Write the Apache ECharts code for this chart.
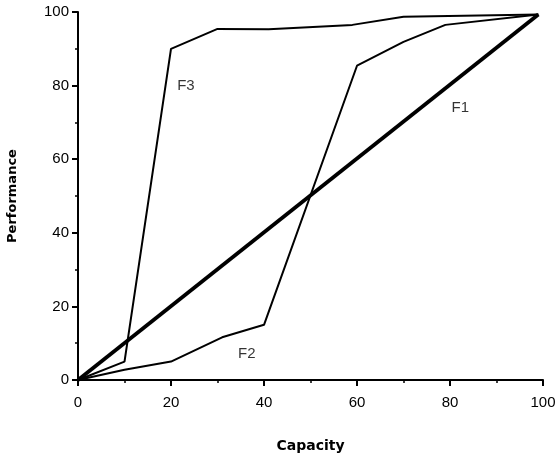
<!DOCTYPE html>
<html>
<head>
<meta charset="utf-8">
<script src="https://cdn.jsdelivr.net/npm/echarts@6/dist/echarts.min.js"></script>
<style>
html,body{margin:0;padding:0;background:#fff;}
#chart{width:557px;height:458px;}
</style>
</head>
<body>
<div id="chart"></div>
<script>
// Data
const f1X = [0, 99];
const f1Y = [0, 99.3];
const f2X = [0, 10, 20, 31, 40, 60, 70, 79, 99];
const f2Y = [0, 2.8, 5, 11.6, 15, 85.4, 91.9, 96.5, 99.3];
const f3X = [0, 10, 20, 30, 41, 59, 70, 99];
const f3Y = [0, 5, 90, 95.4, 95.3, 96.5, 98.7, 99.3];
const curveNames = ['F1', 'F2', 'F3'];
const labelX = [82.2, 36.3, 23.2];
const labelY = [73.9, 7.2, 79.9];
const xTicks = [0, 20, 40, 60, 80, 100];
const yTicks = [0, 20, 40, 60, 80, 100];

const zip = (xs, ys) => xs.map((x, i) => [x, ys[i]]);
const sans = '"Liberation Sans", Arial, Helvetica, sans-serif';

const chart = echarts.init(document.getElementById('chart'));
const axisCommon = {
  type: 'value', min: 0, max: 100, interval: 20,
  axisLine: { show: true, onZero: false, lineStyle: { color: '#000', width: 2 } },
  axisTick: { show: true, inside: false, length: 6, lineStyle: { color: '#000', width: 2 } },
  minorTick: { show: true, splitNumber: 2, length: 3, lineStyle: { color: '#000', width: 1.5 } },
  splitLine: { show: false },
  nameLocation: 'middle'
};
chart.setOption({
  animation: false,
  backgroundColor: '#fff',
  grid: { left: 78, right: 14, top: 12, bottom: 78, containLabel: false, outerBoundsMode: 'none' },
  xAxis: Object.assign({}, axisCommon, {
    name: 'Capacity', nameGap: 59,
    nameTextStyle: { fontFamily: '"DejaVu Sans"', fontWeight: 'bold', fontSize: 14, color: '#000' },
    axisLabel: { color: '#000', fontSize: 15, fontFamily: sans, margin: 15,
      formatter: v => xTicks.includes(v) ? String(v) : '' }
  }),
  yAxis: Object.assign({}, axisCommon, {
    name: 'Performance', nameGap: 59,
    nameTextStyle: { fontFamily: '"DejaVu Sans"', fontWeight: 'bold', fontSize: 13, color: '#000' },
    axisLabel: { color: '#000', fontSize: 15, fontFamily: sans, margin: 9,
      formatter: v => yTicks.includes(v) ? String(v) : '' }
  }),
  series: [
    { type: 'line', data: zip(f1X, f1Y), symbol: 'none', lineStyle: { color: '#000', width: 3.8 }, z: 3 },
    { type: 'line', data: zip(f2X, f2Y), symbol: 'none', lineStyle: { color: '#000', width: 2 }, z: 2 },
    { type: 'line', data: zip(f3X, f3Y), symbol: 'none', lineStyle: { color: '#000', width: 2 }, z: 2 },
    { type: 'scatter', symbolSize: 0, silent: true,
      data: curveNames.map((n, i) => ({ name: n, value: [labelX[i], labelY[i]] })),
      label: { show: true, position: 'inside', formatter: p => p.name, color: '#000',
        fontSize: 15, fontFamily: sans } }
  ]
});
</script>
</body>
</html>
